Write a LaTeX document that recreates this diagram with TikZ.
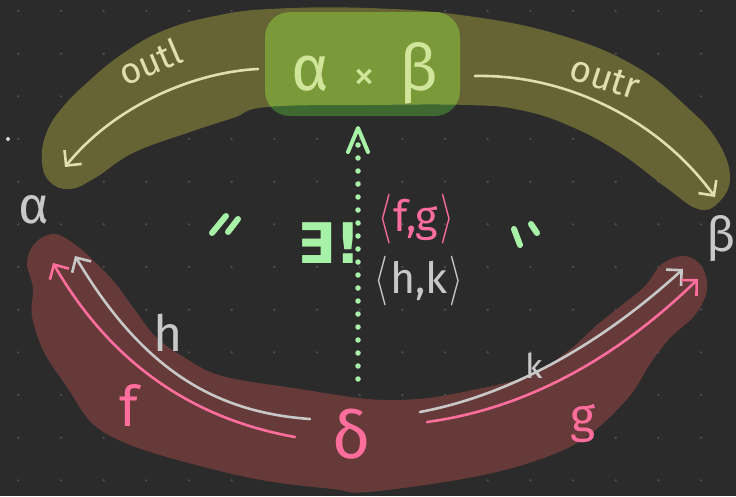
\documentclass[tikz,border=0pt]{standalone}
\usepackage{fontspec}
\setmainfont{Fira Sans}
\newfontfamily\dejavu{DejaVu Sans}
\usetikzlibrary{arrows.meta,calc}
\definecolor{bgc}{HTML}{2B2B2B}
\definecolor{dotc}{HTML}{4E4E4E}
\definecolor{olivec}{HTML}{6B6936}
\definecolor{ltgreen}{HTML}{7A9A3A}
\definecolor{dkgreen}{HTML}{3E6A32}
\definecolor{maroon}{HTML}{6A3B39}
\definecolor{cream}{HTML}{E2DEAD}
\definecolor{prodtxt}{HTML}{CFE59A}
\definecolor{grayc}{HTML}{C8C8C8}
\definecolor{pinkc}{HTML}{FF6E9C}
\definecolor{greenc}{HTML}{A8F2A8}
\newcommand{\la}{\scalebox{1.4}[2.0]{$\langle$}\hspace{2pt}}
\newcommand{\ra}{\hspace{2pt}\scalebox{1.4}[2.0]{$\rangle$}}
\tikzset{
  lbl/.style={inner sep=0pt, outer sep=0pt},
  barb/.style={-{Straight Barb[length=11pt,width=22pt]}, line width=2.6pt, line cap=round},
  cmark/.style={greenc, line width=6pt, line cap=round},
}
\def\olivepath{plot[smooth cycle, tension=0.7] coordinates {
 (42,162) (46,134) (62,108) (90,80) (125,52) (165,30) (215,16) (270,9) (368,8)
 (468,16) (560,35) (635,66) (688,108) (718,142) (730,178) (718,203) (698,209)
 (668,189) (620,153) (570,126) (520,110) (468,105) (368,105) (267,107) (233,118)
 (187,133) (133,153) (95,178) (70,189) (50,182)}}
\begin{document}
\begin{tikzpicture}[x=1pt,y=-1pt]
\useasboundingbox (0,0) rectangle (736,496);
\fill[bgc] (0,0) rectangle (736,496);
\foreach \i in {0,...,17}{\foreach \j in {0,...,11}{
  \fill[dotc] ({18.3+42.67*\i},{11+42.67*\j}) circle[radius=1.3];}}
\fill[grayc!80] (8,139) circle[radius=2];
% olive band
\fill[olivec, fill opacity=0.93] \olivepath;
% product box
\fill[dkgreen, rounded corners=25] (265,12) rectangle (460,116);
\begin{scope}
  \clip \olivepath;
  \fill[ltgreen, rounded corners=25] (265,12) rectangle (460,116);
\end{scope}
% maroon band
\fill[maroon, fill opacity=0.95] plot[smooth cycle, tension=0.6] coordinates {
 (55,234) (77,246) (96,263) (115,283) (135,310) (155,336) (182,356) (222,376)
 (300,389) (368,399) (418,399) (468,391) (528,376) (568,351) (597,325) (622,305)
 (645,286) (662,264) (685,256) (702,267) (707,290) (695,315) (670,338) (650,364)
 (628,398) (585,438) (535,461) (468,478) (368,492) (333,489) (267,481) (200,466)
 (133,446) (93,424) (67,387) (44,352) (32,316) (33,288) (27,263) (35,243)};
% text nodes
\node[lbl, text=prodtxt, font=\fontsize{64}{64}\selectfont] (prod) at (365,73)
  {α\hspace{24pt}{\fontsize{44}{44}\selectfont ×}\hspace{24pt}β};
\node[lbl, text=grayc, font=\fontsize{52}{52}\selectfont] (alpha) at (34,210) {α};
\node[lbl, text=grayc, font=\fontsize{48}{48}\selectfont] (beta) at (721,239) {β};
\node[lbl, text=pinkc, font=\fontsize{66}{66}\selectfont] (delta) at (352,434) {δ};
\node[lbl, text=cream, font=\fontsize{36}{36}\selectfont, rotate=23] (outl) at (150,62) {outl};
\node[lbl, text=cream, font=\fontsize{37}{37}\selectfont, rotate=-18] (outr) at (605,78) {outr};
\node[lbl, text=grayc, font=\fontsize{50}{50}\selectfont] (hl) at (168,333) {h};
\node[lbl, text=pinkc, font=\fontsize{56}{56}\selectfont] (fl) at (129,405) {f};
\node[lbl, text=grayc, font=\fontsize{34}{34}\selectfont] (kl) at (534,366) {k};
\node[lbl, text=pinkc, font=\fontsize{48}{48}\selectfont] (gl) at (583,424) {g};
\node[lbl, text=pinkc, font=\fontsize{43}{43}\selectfont] (fg) at (416,219) {\la f,g\ra};
\node[lbl, text=grayc, font=\fontsize{43}{43}\selectfont] (hk) at (419,281) {\la h,k\ra};
\node[lbl, text=greenc, font=\fontsize{56}{56}\dejavu\bfseries] (uniq) at (329,243) {∃!};
% arrow endpoints
\coordinate (outlS) at (258,69);  \coordinate (outlE) at (65,167);
\coordinate (outrS) at (475,76);  \coordinate (outrE) at (715,197);
\coordinate (hS) at (310,419);    \coordinate (hE) at (75,256);
\coordinate (fS) at (295,437);    \coordinate (fE) at (53,263);
\coordinate (kS) at (420,412);    \coordinate (kE) at (683,269);
\coordinate (gS) at (427,422);    \coordinate (gE) at (698,279);
\coordinate (dotS) at (358,379);  \coordinate (dotE) at (358,128);
\coordinate (dotT) at (358,143);
% arrows
\draw[barb, cream] (outlS) .. controls (195,72) and (115,105) .. (outlE);
\draw[barb, cream] (outrS) .. controls (560,74) and (655,115) .. (outrE);
\draw[barb, grayc] (hS) .. controls (210,412) and (140,365) .. (hE);
\draw[barb, pinkc] (fS) .. controls (200,420) and (115,370) .. (fE);
\draw[barb, grayc] (kS) .. controls (510,395) and (600,345) .. (kE);
\draw[barb, pinkc] (gS) .. controls (530,408) and (620,355) .. (gE);
% dotted unique arrow
\draw[greenc, line width=5.5pt, line cap=round, dash pattern=on 0pt off 13pt] (dotS) -- (dotT);
\draw[greenc, line width=4pt, line cap=round, line join=round]
  ($(dotE)+(-10,24)$) -- (dotE) -- ($(dotE)+(10,24)$);
% commutation marks
\draw[cmark] (212,233) -- (226,216);
\draw[cmark] (228,232) -- (238,219);
\draw[cmark] (514,229) -- (520,245);
\draw[cmark] (531,224) -- (537,233);
\end{tikzpicture}
\end{document}
